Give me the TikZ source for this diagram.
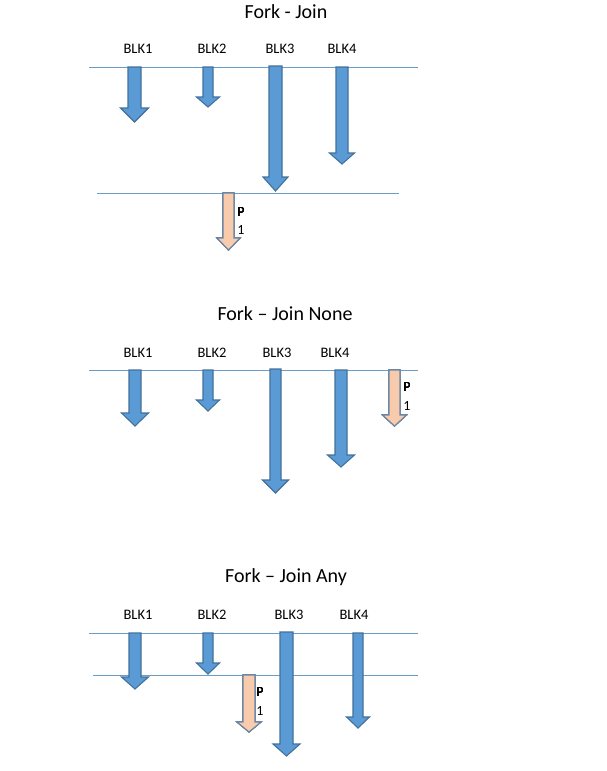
\documentclass[tikz,border=0pt]{standalone}
\usepackage{fontspec}
\setmainfont{Carlito}
\usetikzlibrary{positioning}

\definecolor{blkfill}{HTML}{5B9BD5}
\definecolor{blkedge}{HTML}{41719C}
\definecolor{pfill}{HTML}{F8CBAD}
\definecolor{pedge}{HTML}{6A86A3}
\definecolor{syncline}{HTML}{6C9CC8}

% down arrow: x, shaft half width, head half width, top, head start, tip
\newcommand{\blkarrow}[7]{%
  \draw[#1] ({#2-#3},#5) -- ({#2+#3},#5) -- ({#2+#3},#6) -- ({#2+#4},#6)
    -- (#2,#7) -- ({#2-#4},#6) -- ({#2-#3},#6) -- cycle;}

\tikzset{
  title/.style={font=\fontsize{20}{24}\selectfont, inner sep=0pt},
  blklabel/.style={font=\fontsize{14.5}{17}\selectfont, inner sep=0pt},
  plabel/.style={font=\fontsize{14}{17}\selectfont, inner sep=0pt},
  sync/.style={draw=syncline, line width=0.9pt},
  blk/.style={fill=blkfill, draw=blkedge, line width=1.1pt, line join=miter},
  proc/.style={fill=pfill, draw=pedge, line width=1.1pt, line join=miter}
}

\begin{document}
\begin{tikzpicture}[x=1pt, y=-1pt]
  \useasboundingbox[fill=white] (0,0) rectangle (606,771);

  % Fork - Join
  \node[title] (t1) at (286,12) {Fork - Join};
  \foreach \i/\x in {1/138, 2/212, 3/280, 4/342}
    \node[blklabel] (a\i) at (\x,49) {BLK\i};
  \coordinate (a-l1) at (89,67);  \coordinate (a-r1) at (418,67);
  \coordinate (a-l2) at (97,193); \coordinate (a-r2) at (399,193);
  \draw[sync] (a-l1) -- (a-r1);
  \draw[sync] (a-l2) -- (a-r2);
  \foreach \x/\w/\h/\t/\s/\e in {134.5/6.5/14/67/108/122, 208/5/11.5/67/97/107,
      275.5/6.5/12.5/66/177/191, 342/6/12.5/67/153/164}
    \blkarrow{blk}{\x}{\w}{\h}{\t}{\s}{\e}
  \blkarrow{proc}{228.5}{5.5}{11.5}{193}{238}{250}
  \node[plabel] (a-p) at (241,212) {P};
  \node[plabel] (a-n) at (241,230) {1};

  % Fork - Join None
  \node[title] (t2) at (285,314) {Fork – Join None};
  \foreach \i/\x in {1/138, 2/212, 3/277, 4/335}
    \node[blklabel] (b\i) at (\x,353) {BLK\i};
  \coordinate (b-l1) at (89,370); \coordinate (b-r1) at (418,370);
  \draw[sync] (b-l1) -- (b-r1);
  \foreach \x/\w/\h/\t/\s/\e in {135/6/13.5/370/413/426, 208/5/11.5/370/400/411,
      275.5/5.5/13/369/480/493, 341/6/13.5/370/455/467}
    \blkarrow{blk}{\x}{\w}{\h}{\t}{\s}{\e}
  \blkarrow{proc}{394.5}{5.5}{12}{370}{415}{426}
  \node[plabel] (b-p) at (407,387) {P};
  \node[plabel] (b-n) at (407,406) {1};

  % Fork - Join Any
  \node[title] (t3) at (286,577) {Fork – Join Any};
  \foreach \i/\x in {1/138, 2/212, 3/289, 4/354}
    \node[blklabel] (c\i) at (\x,615) {BLK\i};
  \coordinate (c-l1) at (89,633); \coordinate (c-r1) at (418,633);
  \coordinate (c-l2) at (93,675); \coordinate (c-r2) at (418,675);
  \draw[sync] (c-l1) -- (c-r1);
  \draw[sync] (c-l2) -- (c-r2);
  \foreach \x/\w/\h/\t/\s/\e in {135/6/13.5/633/677/689, 208/5/11.5/633/663/674,
      286.5/6.5/13.5/632/744/756, 358/5/11.5/633/717/728}
    \blkarrow{blk}{\x}{\w}{\h}{\t}{\s}{\e}
  \blkarrow{proc}{249}{6}{12}{675}{722}{732}
  \node[plabel] (c-p) at (260,692) {P};
  \node[plabel] (c-n) at (260,711) {1};
\end{tikzpicture}
\end{document}
